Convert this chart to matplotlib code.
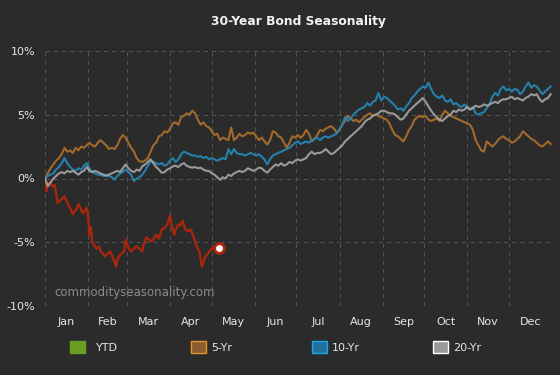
import matplotlib
matplotlib.use('Agg')
import matplotlib.pyplot as plt
import numpy as np
from matplotlib.patches import Patch

months = ['Jan', 'Feb', 'Mar', 'Apr', 'May', 'Jun',
          'Jul', 'Aug', 'Sep', 'Oct', 'Nov', 'Dec']
month_days = [31, 28, 31, 30, 31, 30, 31, 31, 30, 31, 30, 31]
y_ticks = [-10, -5, 0, 5, 10]

# YTD: day of year, % change
ytd_day = [0, 1, 2, 4, 5, 7, 8, 9, 11, 13, 14, 16, 18, 20, 21, 23, 24, 26, 27, 29,
           30, 31, 32, 33, 34, 36, 37, 39, 40, 42, 43, 45, 47, 48, 50, 51, 52, 53, 55, 57,
           58, 60, 62, 64, 66, 68, 70, 71, 73, 75, 77, 79, 80, 82, 84, 86, 88, 90, 91, 93,
           94, 96, 97, 99, 101, 103, 105, 107, 109, 111, 112, 113, 115, 117, 119, 121, 123, 125]
ytd_val = [0.0, -1.0, -0.4, -0.3, -0.6, -0.5, -1.2, -1.9, -1.7, -1.5, -1.4, -1.9, -2.3, -2.8, -2.6, -2.3, -2.0, -2.4, -2.7, -2.5,
           -2.3, -2.9, -4.4, -3.8, -5.0, -5.3, -5.5, -5.3, -5.7, -5.9, -6.1, -5.9, -5.7, -6.0, -6.5, -6.9, -6.4, -6.1, -5.9, -5.7,
           -4.8, -5.4, -5.7, -5.5, -5.3, -5.5, -5.7, -5.2, -4.6, -4.8, -4.9, -4.6, -4.4, -4.7, -4.0, -3.9, -3.6, -2.9, -3.6, -4.4,
           -4.0, -3.6, -3.7, -3.3, -4.0, -4.1, -4.0, -4.6, -5.3, -5.7, -6.3, -6.9, -6.2, -5.9, -5.6, -5.4, -5.5, -5.4]

# seasonal averages, one value every 2 days from Jan 1
step = 2
yr5_val = [0.0, 0.4, 0.8, 1.1, 1.4, 1.6, 1.9, 2.4, 2.1, 2.2,
           2.0, 2.4, 2.2, 2.5, 2.4, 2.6, 2.8, 2.6, 2.5, 2.8,
           3.0, 2.8, 2.6, 2.3, 2.4, 2.3, 2.6, 3.1, 3.4, 3.2,
           2.8, 2.4, 2.1, 1.6, 1.35, 1.3, 1.4, 1.6, 2.1, 2.6,
           2.8, 3.3, 3.4, 3.7, 3.6, 3.9, 4.3, 4.4, 4.2, 4.8,
           4.9, 5.1, 5.0, 5.3, 5.1, 4.6, 4.2, 4.4, 4.1, 4.0,
           3.7, 3.4, 3.5, 3.0, 3.2, 3.1, 3.0, 4.0, 3.0, 3.2,
           3.5, 3.3, 3.4, 3.6, 3.5, 3.6, 3.3, 3.0, 3.2, 2.9,
           2.65, 3.0, 3.7, 3.6, 3.3, 3.2, 2.8, 2.4, 2.8, 3.3,
           3.2, 3.4, 3.2, 3.4, 3.8, 3.5, 2.9, 3.1, 3.4, 3.8,
           3.7, 3.9, 4.0, 4.1, 3.9, 3.6, 3.8, 4.2, 4.5, 4.9,
           4.7, 4.5, 4.6, 4.4, 4.6, 4.8, 5.0, 5.1, 4.9, 5.0,
           4.9, 4.8, 4.7, 4.6, 4.3, 3.8, 3.4, 3.3, 3.1, 2.9,
           3.3, 3.8, 4.1, 4.6, 4.8, 4.9, 4.8, 4.9, 4.6, 4.5,
           4.6, 4.7, 4.5, 5.0, 5.3, 5.1, 4.9, 4.8, 4.7, 4.6,
           4.5, 4.4, 4.3, 4.2, 3.8, 3.0, 2.6, 2.2, 2.1, 2.9,
           2.7, 2.5, 2.7, 3.0, 3.2, 3.3, 3.1, 3.0, 2.8, 2.9,
           3.1, 3.3, 3.7, 3.5, 3.3, 3.1, 3.0, 2.8, 2.6, 2.5,
           2.7, 2.9, 2.7]
yr10_val = [0.0, 0.2, 0.3, 0.4, 0.7, 0.9, 1.2, 1.6, 1.2, 0.9,
            0.7, 0.6, 0.8, 0.7, 1.0, 1.2, 0.8, 0.5, 0.4, 0.3,
            0.3, 0.2, 0.3, 0.2, 0.1, -0.1, 0.2, 0.4, 0.5, 0.7,
            0.5, 0.3, -0.2, 0.0, 0.1, 0.3, 0.6, 1.0, 1.35, 1.3,
            1.2, 1.1, 1.2, 1.0, 1.1, 1.4, 1.6, 1.3, 1.5, 1.9,
            2.1, 2.0, 1.9, 1.8, 1.8, 1.7, 1.75, 1.6, 1.7, 1.5,
            1.6, 1.5, 1.4, 1.5, 1.6, 1.5, 2.3, 1.9, 2.3, 2.0,
            1.9, 1.9, 1.8, 1.9, 2.0, 1.9, 1.8, 1.9, 1.7, 1.5,
            1.1, 1.5, 1.8, 1.9, 2.0, 2.1, 2.2, 2.3, 2.4, 2.6,
            2.8, 2.9, 2.7, 2.8, 2.9, 2.8, 3.0, 3.1, 3.2, 3.0,
            3.2, 3.3, 3.2, 3.3, 3.4, 3.5, 3.9, 4.2, 4.8, 4.5,
            4.7, 5.0, 5.2, 5.4, 5.5, 5.6, 5.9, 5.7, 6.0, 6.1,
            6.7, 6.1, 6.4, 6.3, 6.1, 5.9, 5.7, 5.4, 5.5, 5.3,
            5.65, 5.9, 6.3, 6.5, 6.8, 7.0, 7.2, 7.1, 7.5, 7.0,
            6.6, 6.4, 6.3, 6.5, 6.1, 6.0, 6.2, 5.8, 5.9, 5.7,
            5.6, 5.8, 5.5, 5.4, 5.6, 5.1, 5.0, 5.1, 5.2, 5.5,
            5.8, 6.4, 6.7, 6.5, 7.0, 7.2, 6.9, 7.0, 6.8, 7.0,
            6.95, 6.6, 6.8, 7.2, 7.5, 7.1, 7.3, 7.2, 6.9, 6.6,
            6.8, 7.0, 7.2]
yr20_val = [0.0, -0.6, -0.3, 0.0, 0.2, 0.4, 0.5, 0.4, 0.6, 0.5,
            0.6, 0.45, 0.3, 0.5, 0.6, 0.9, 0.6, 0.5, 0.6, 0.5,
            0.4, 0.3, 0.2, 0.3, 0.4, 0.5, 0.6, 0.5, 0.8, 1.1,
            0.8, 0.6, 0.5, 0.7, 0.6, 0.95, 1.1, 1.3, 1.5, 1.2,
            0.9, 0.7, 0.45, 0.5, 0.7, 0.8, 0.95, 1.0, 0.9, 1.1,
            1.2, 1.0, 0.9, 0.85, 0.9, 0.8, 0.85, 0.7, 0.6, 0.6,
            0.4, 0.3, 0.1, -0.1, 0.1, 0.0, 0.3, 0.2, 0.4, 0.5,
            0.6, 0.5, 0.6, 0.8, 0.7, 0.6, 0.7, 0.85, 0.8, 0.6,
            0.45, 0.7, 0.9, 1.1, 1.0, 1.2, 1.0, 1.1, 1.3, 1.2,
            1.4, 1.5, 1.4, 1.5, 1.6, 1.9, 2.1, 1.9, 2.0, 2.0,
            2.1, 2.3, 2.1, 1.9, 2.0, 2.2, 2.4, 2.6, 2.9, 3.1,
            3.3, 3.5, 3.7, 3.9, 4.1, 4.4, 4.6, 4.7, 4.9, 5.0,
            5.1, 5.3, 5.3, 5.2, 5.1, 5.1, 5.0, 4.8, 4.6, 4.7,
            5.0, 5.3, 5.5, 5.7, 5.9, 6.1, 6.3, 6.0, 5.65, 5.3,
            5.0, 4.8, 4.6, 4.5, 4.7, 4.9, 5.0, 5.3, 5.2, 5.4,
            5.3, 5.4, 5.6, 5.4, 5.5, 5.7, 5.6, 5.65, 5.8, 5.7,
            5.8, 5.9, 6.0, 5.9, 6.1, 6.2, 6.2, 6.3, 6.4, 6.2,
            6.3, 6.2, 6.1, 6.3, 6.4, 6.6, 6.5, 6.6, 6.2, 6.0,
            6.2, 6.3, 6.6]

bg = '#2b2b2b'
text_c = '#e6e6e6'

fig = plt.figure(figsize=(5.6, 3.75), dpi=100, facecolor=bg)
ax = fig.add_axes([0.0804, 0.1832, 0.9054, 0.6816], facecolor=bg)

edges = np.concatenate([[0], np.cumsum(month_days)])
mids = (edges[:-1] + edges[1:]) / 2

ax.plot(ytd_day, ytd_val, color='#a8260c', lw=1.7, zorder=3)
ax.plot(np.arange(len(yr5_val)) * step, yr5_val, color='#a86e2c', lw=1.5, alpha=0.95, zorder=3)
ax.plot(np.arange(len(yr10_val)) * step, yr10_val, color='#2585b3', lw=1.5, alpha=0.95, zorder=3)
ax.plot(np.arange(len(yr20_val)) * step, yr20_val, color='#a6a6a6', lw=1.5, alpha=0.9, zorder=3)
ax.plot(ytd_day[-1], ytd_val[-1], 'o', mfc='white', mec='#b0250c', ms=7, mew=2, zorder=5)

ax.set_xlim(0, 365)
ax.set_ylim(-10, 10)
ax.set_xticks(edges)
ax.set_xticklabels([])
ax.set_xticks(mids, minor=True)
ax.set_xticklabels(months, minor=True)
ax.set_yticks(y_ticks)
ax.set_yticklabels([f'{v}%' for v in y_ticks])
ax.tick_params(which='both', length=0, colors=text_c, labelsize=8)
ax.tick_params(axis='x', which='minor', pad=8)
ax.tick_params(axis='y', pad=7)
ax.grid(True, which='major', color='#555555', linestyle=(0, (4, 4)), linewidth=0.75)
for s in ax.spines.values():
    s.set_visible(False)

ax.text(0.018, 0.053, 'commodityseasonality.com', transform=ax.transAxes,
        color='#8c8c8c', fontsize=8.5, va='center', ha='left', zorder=4)

fig.text(0.533, 0.942, '30-Year Bond Seasonality', color='#f2f2f2',
         fontsize=8.8, fontweight='bold', ha='center', va='center')

legend_items = [('YTD', '#6a9e20', '#6a9e20'),
                ('5-Yr', '#8a5d2f', '#e8942e'),
                ('10-Yr', '#22709a', '#1ba8ea'),
                ('20-Yr', '#999999', '#ffffff')]
for i, (name, fc, ec) in enumerate(legend_items):
    fig.legend(handles=[Patch(facecolor=fc, edgecolor=ec, linewidth=1)], labels=[name],
               loc='center left', bbox_to_anchor=((64 + 121 * i) / 560, 0.0747),
               frameon=False, borderpad=0, handlelength=1.35, handleheight=1.35,
               handletextpad=1.0 if i == 0 else 0.5, fontsize=8, labelcolor=text_c)

plt.savefig('out.png', dpi=100, facecolor=bg)
